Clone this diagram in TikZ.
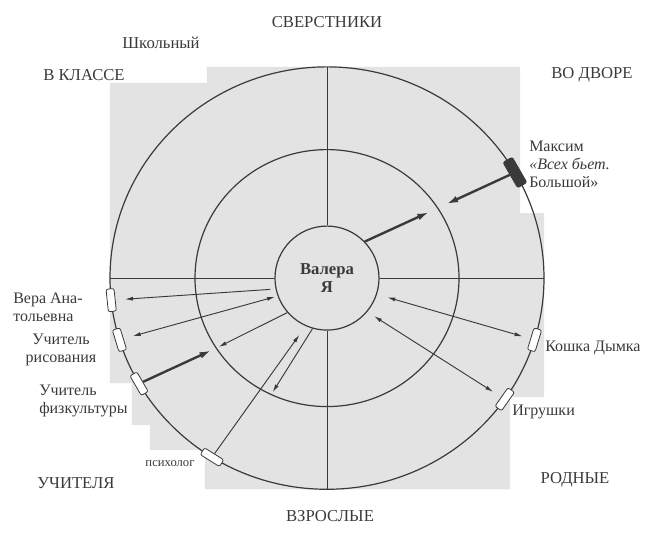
\documentclass[tikz,border=0pt]{standalone}
\usepackage{fontspec}
\setmainfont{Liberation Serif}
\usetikzlibrary{arrows.meta}
\definecolor{ink}{HTML}{3a3a3a}
\definecolor{bggray}{HTML}{e3e3e3}

\tikzset{
  itembox/.style={draw=ink, fill=white, rounded corners=1.5pt, minimum width=6pt,
    minimum height=17pt, inner sep=0pt, line width=0.6pt},
  zone/.style={font=\fontsize{12.5}{14}\selectfont, text=ink},
  who/.style={font=\fontsize{12}{13.5}\selectfont, text=ink, align=left, inner sep=0pt},
  divider/.style={draw=ink, line width=0.7pt},
  link/.style={draw=ink, line width=0.7pt, -{Latex[length=6pt,width=3pt]}},
  twoway/.style={draw=ink, line width=0.7pt, {Latex[length=6pt,width=3pt]}-{Latex[length=6pt,width=3pt]}},
  strong/.style={draw=ink, line width=1.8pt, -{Latex[length=9pt,width=5pt]}},
}

\begin{document}
\begin{tikzpicture}[x=0.75pt,y=0.73pt]
  \useasboundingbox (-327,-267.3) rectangle (326,285.7);
  % серый фон, вырезанный под подписи
  \fill[bggray] (-217,200.5) -- (-120,200.5) -- (-120,217) -- (193,217) -- (193,66.8)
    -- (217,66.8) -- (217,-122.3) -- (183,-122.3) -- (183,-217) -- (-122,-217)
    -- (-122,-176.8) -- (-177,-176.8) -- (-177,-151.1) -- (-195,-151.1)
    -- (-195,-107.9) -- (-217,-107.9) -- cycle;

  % круги
  \draw[ink, line width=0.9pt] (0,0) circle (217);
  \draw[ink, line width=0.9pt] (0,0) circle (132);
  \node[draw=ink, line width=0.9pt, circle, minimum size=78pt, fill=bggray, text=ink,
    font=\bfseries\fontsize{12.5}{13.5}\selectfont, align=center] (ya) at (0,0) {Валера\\Я};

  \draw[divider] (ya.north) -- (90:217);
  \draw[divider] (ya.south) -- (270:217);
  \draw[divider] (ya.west) -- (180:217);
  \draw[divider] (ya.east) -- (0:217);

  % люди на внешнем круге
  \node[itembox, rotate=186] (vera) at (186:217) {};
  \node[itembox, rotate=197] (risov) at (197:217) {};
  \node[itembox, rotate=210] (fizra) at (210:217) {};
  \node[itembox, rotate=238] (psych) at (238:217) {};
  \node[itembox, rotate=343] (koshka) at (343:217) {};
  \node[itembox, rotate=325] (toys) at (325:217) {};
  \node[itembox, fill=ink, minimum width=8pt, minimum height=22pt, rotate=30] (maxim) at (30:217) {};

  % точки на среднем круге
  \coordinate (mfiz) at (213:132);
  \coordinate (mpsy) at (245:132);
  \coordinate (mmax) at (33:132);

  % связи
  \draw[link, shorten <=4pt, shorten >=7pt] (ya.192) -- (vera);
  \draw[twoway, shorten <=2pt, shorten >=7pt] (ya.200) -- (risov);
  \draw[link, shorten >=2pt] (ya.221) -- (mfiz);
  \draw[strong, shorten >=4pt] (fizra) -- (mfiz);
  \draw[link, shorten >=8pt] (psych) -- (ya.246);
  \draw[link, shorten >=2pt] (ya.254) -- (mpsy);
  \draw[twoway, shorten <=8pt, shorten >=6pt] (ya.342) -- (koshka);
  \draw[twoway, shorten <=6pt, shorten >=7pt] (ya.320) -- (toys);
  \draw[strong, shorten >=7pt] (ya.44) -- (mmax);
  \draw[strong, shorten >=7pt] (maxim) -- (mmax);

  % подписи секторов
  \node[zone] (peers) at (0,263) {СВЕРСТНИКИ};
  \node[zone] (school) at (-166,241.6) {Школьный};
  \node[zone] (klass) at (-243,208.7) {В КЛАССЕ};
  \node[zone] (dvor) at (265,208.7) {ВО ДВОРЕ};
  \node[zone] (teachers) at (-251,-211) {УЧИТЕЛЯ};
  \node[zone] (adults) at (3,-244) {ВЗРОСЛЫЕ};
  \node[zone] (family) at (248,-207) {РОДНЫЕ};

  % подписи людей
  \node[who, anchor=west] (maximtxt) at (202,117) {Максим\\\itshape «Всех бьет.\\Большой»};
  \node[who, anchor=west] (veratxt) at (-314,-29.8) {Вера Ана-\\тольевна};
  \node[who, align=center] (risovtxt) at (-266,-74) {Учитель\\рисования};
  \node[who, anchor=west] (fizratxt) at (-288,-126) {Учитель\\физкультуры};
  \node[who, anchor=west] (koshkatxt) at (218,-72) {Кошка Дымка};
  \node[who, anchor=west] (toystxt) at (185,-138) {Игрушки};
  \node[who, font=\fontsize{9.5}{11}\selectfont] (psychtxt) at (-157,-191) {психолог};
\end{tikzpicture}
\end{document}
